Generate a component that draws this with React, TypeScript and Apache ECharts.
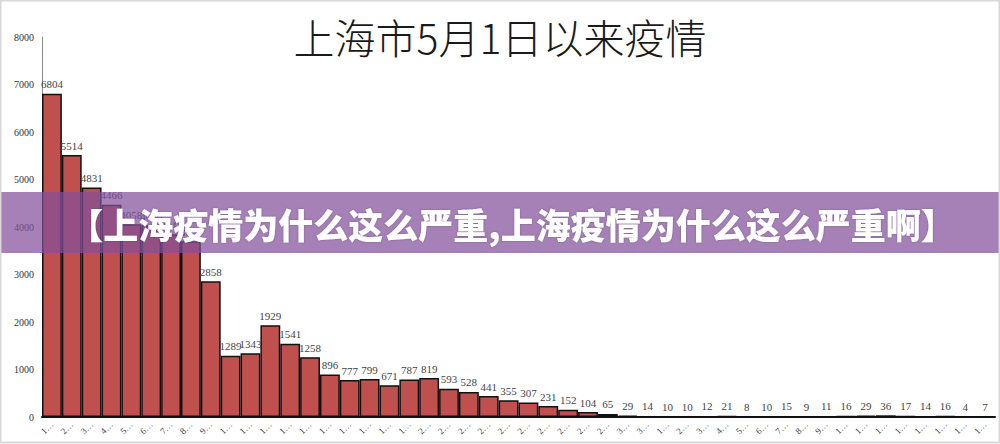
import React, { useEffect, useRef } from "react";
import * as echarts from "echarts";

const days: string[] = [
  "1日","2日","3日","4日","5日","6日","7日","8日","9日","10日",
  "11日","12日","13日","14日","15日","16日","17日","18日","19日","20日",
  "21日","22日","23日","24日","25日","26日","27日","28日","29日","30日","31日",
  "1日","2日","3日","4日","5日","6日","7日","8日","9日","10日",
  "11日","12日","13日","14日","15日","16日","17日",
];

const cases: number[] = [
  6804, 5514, 4831, 4466, 4058, 4036, 3847, 3698, 2858, 1289,
  1343, 1929, 1541, 1258, 896, 777, 799, 671, 787, 819,
  593, 528, 441, 355, 307, 231, 152, 104, 65, 29, 14,
  10, 10, 12, 21, 8, 10, 15, 9, 11,
  16, 29, 36, 17, 14, 16, 4, 7,
];

const yTicks = { min: 0, max: 8000, interval: 1000 };

const titleText = "上海市5月1日以来疫情";
const bannerText = "【上海疫情为什么这么严重,上海疫情为什么这么严重啊】";

export default function App() {
  const ref = useRef<HTMLDivElement>(null);
  useEffect(() => {
    document.body.style.margin = "0";
    const chart = echarts.init(ref.current!, null, { renderer: "svg" });
    const serif = "'Liberation Serif', 'DejaVu Serif', serif";
    chart.setOption({
      animation: false,
      backgroundColor: "#ffffff",
      grid: { left: 42, right: 5, top: 37, bottom: 27, containLabel: false },
      xAxis: {
        type: "category",
        data: days,
        axisLine: { show: true, lineStyle: { color: "#111", width: 2 } },
        axisTick: { show: false },
        axisLabel: {
          interval: 0,
          rotate: 45,
          fontSize: 9,
          fontFamily: serif,
          color: "#444",
          margin: 6,
          formatter: (v: string) => v.charAt(0) + "…",
        },
      },
      yAxis: {
        type: "value",
        min: yTicks.min,
        max: yTicks.max,
        interval: yTicks.interval,
        splitLine: { show: false },
        axisLine: { show: true, lineStyle: { color: "#8a8a8a", width: 1 } },
        axisTick: { show: false },
        axisLabel: {
          fontSize: 10,
          fontFamily: serif,
          color: "#333",
          margin: 8,
          formatter: (v: number) => String(v),
        },
      },
      series: [
        {
          type: "bar",
          data: cases,
          barCategoryGap: "0%",
          itemStyle: { color: "#c0504d", borderColor: "#111", borderWidth: 1.5 },
          label: {
            show: true,
            position: "top",
            distance: 4,
            fontSize: 11,
            fontFamily: serif,
            color: "#444",
          },
        },
      ],
      graphic: [
        {
          type: "text",
          left: "center",
          top: 15,
          style: {
            text: titleText,
            fontSize: 41,
            fontWeight: 300,
            fontFamily: "'Noto Sans CJK SC', sans-serif",
            fill: "#1a1a1a",
          },
        },
        {
          type: "rect",
          shape: { x: 0, y: 192, width: 1000, height: 61 },
          style: { fill: "rgba(130,80,155,0.72)" },
          z: 100,
        },
        {
          type: "text",
          x: 512,
          y: 223,
          z: 101,
          style: {
            text: bannerText,
            fontSize: 35,
            fontWeight: 900,
            fontFamily: "'Noto Sans CJK SC', sans-serif",
            fill: "#ffffff",
            align: "center",
            verticalAlign: "middle",
            textShadowColor: "rgba(0,0,0,0.25)",
            textShadowBlur: 2,
          },
        },
        {
          type: "rect",
          shape: { x: 0.5, y: 0.5, width: 999, height: 442 },
          style: { fill: "none", stroke: "#d8d8d8", lineWidth: 2 },
          z: 102,
        },
      ],
    });
    return () => chart.dispose();
  }, []);
  return <div ref={ref} style={{ width: 1000, height: 444 }} />;
}
